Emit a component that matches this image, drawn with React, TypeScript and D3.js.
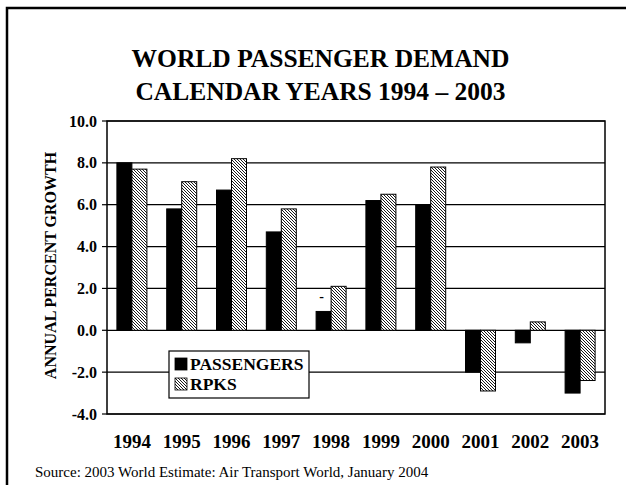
import React from "react";
import * as d3 from "d3";

const years = ["1994", "1995", "1996", "1997", "1998", "1999", "2000", "2001", "2002", "2003"];
const passengers = [8.0, 5.8, 6.7, 4.7, 0.9, 6.2, 6.0, -2.0, -0.6, -3.0];
const rpks = [7.7, 7.1, 8.2, 5.8, 2.1, 6.5, 7.8, -2.9, 0.4, -2.4];
const yTicks = [10, 8, 6, 4, 2, 0, -2, -4];
const seriesNames = ["PASSENGERS", "RPKS"];
const titleLines = ["WORLD PASSENGER DEMAND", "CALENDAR YEARS 1994 \u2013 2003"];
const yAxisTitle = "ANNUAL PERCENT GROWTH";
const sourceText = "Source: 2003 World Estimate: Air Transport World, January 2004";
const dataLabels = [{ year: "1998", series: "PASSENGERS", text: "-" }];

const W = 626;
const H = 485;
const plot = { left: 107, right: 605, top: 121, bottom: 414 };
const FONT = "'Liberation Serif', 'Times New Roman', serif";

export default function App() {
  const x = d3.scaleBand<string>().domain(years).range([plot.left, plot.right]).padding(0);
  const xs = d3
    .scaleBand<string>()
    .domain(seriesNames)
    .range([0, x.bandwidth()])
    .paddingInner(0)
    .paddingOuter(0.66);
  const y = d3.scaleLinear().domain([-4, 10]).range([plot.bottom, plot.top]);
  const series = [
    { name: seriesNames[0], values: passengers, fill: "#000" },
    { name: seriesNames[1], values: rpks, fill: "url(#hatch)" },
  ];

  return (
    <svg
      width={W}
      height={H}
      style={{ position: "absolute", left: 0, top: 0, background: "#fff" }}
      fontFamily={FONT}
    >
      <defs>
        <pattern id="hatch" patternUnits="userSpaceOnUse" width={3} height={3}>
          <rect width={3} height={3} fill="#fff" />
          <path d="M0,0L3,3M-1,2L1,4M2,-1L4,1" stroke="#000" strokeWidth={0.9} />
        </pattern>
      </defs>
      <rect x={0} y={0} width={W} height={H} fill="#fff" />
      {/* outer frame */}
      <rect x={7} y={8} width={W + 50} height={H + 50} fill="none" stroke="#000" strokeWidth={2.5} />

      {/* title */}
      {titleLines.map((t, i) => (
        <text
          key={t}
          x={320.5}
          y={67 + i * 32.5}
          textAnchor="middle"
          fontWeight="bold"
          fontSize={25.5}
        >
          {t}
        </text>
      ))}

      {/* gridlines */}
      {yTicks.map((t) => (
        <g key={t}>
          <line x1={plot.left} x2={plot.right} y1={y(t)} y2={y(t)} stroke="#000" strokeWidth={1.2} />
          <line x1={plot.left - 5} x2={plot.left} y1={y(t)} y2={y(t)} stroke="#000" strokeWidth={1.2} />
          <text
            x={97}
            y={y(t)}
            dy="0.35em"
            textAnchor="end"
            fontWeight="bold"
            fontSize={16}
          >
            {t.toFixed(1)}
          </text>
        </g>
      ))}

      {/* bars */}
      {series.map((s) =>
        years.map((yr, i) => {
          const v = s.values[i];
          const x0 = (x(yr) ?? 0) + (xs(s.name) ?? 0);
          return (
            <rect
              key={s.name + yr}
              x={x0}
              y={Math.min(y(v), y(0))}
              width={xs.bandwidth()}
              height={Math.abs(y(v) - y(0))}
              fill={s.fill}
              stroke="#000"
              strokeWidth={1}
            />
          );
        })
      )}

      {/* data labels */}
      {dataLabels.map((d) => {
        const i = years.indexOf(d.year);
        const s = series.find((q) => q.name === d.series)!;
        const cx = (x(d.year) ?? 0) + (xs(d.series) ?? 0) + xs.bandwidth() / 2;
        return (
          <text key={d.year} x={cx - 2} y={y(s.values[i]) - 10} textAnchor="middle" fontWeight="bold" fontSize={14}>
            {d.text}
          </text>
        );
      })}

      {/* plot border */}
      <rect
        x={plot.left}
        y={plot.top}
        width={plot.right - plot.left}
        height={plot.bottom - plot.top}
        fill="none"
        stroke="#000"
        strokeWidth={1.5}
      />

      {/* legend */}
      <g>
        <rect x={169} y={351} width={140} height={47} fill="#fff" stroke="#000" strokeWidth={1.2} />
        {series.map((s, i) => (
          <g key={s.name} transform={`translate(175, ${358 + i * 20})`}>
            <rect x={0} y={0} width={12} height={12} fill={s.fill} stroke="#000" strokeWidth={0.8} />
            <text x={15} y={11.5} fontWeight="bold" fontSize={17.5}>
              {s.name}
            </text>
          </g>
        ))}
      </g>

      {/* x labels */}
      {years.map((yr) => (
        <text
          key={yr}
          x={(x(yr) ?? 0) + x.bandwidth() / 2}
          y={448}
          textAnchor="middle"
          fontWeight="bold"
          fontSize={19}
        >
          {yr}
        </text>
      ))}

      {/* y axis title */}
      <text
        transform={`translate(55.5, ${(plot.top + plot.bottom) / 2 - 2}) rotate(-90)`}
        textAnchor="middle"
        fontWeight="bold"
        fontSize={16}
      >
        {yAxisTitle}
      </text>

      {/* source */}
      <text x={35} y={477} fontSize={15}>
        {sourceText}
      </text>
    </svg>
  );
}
